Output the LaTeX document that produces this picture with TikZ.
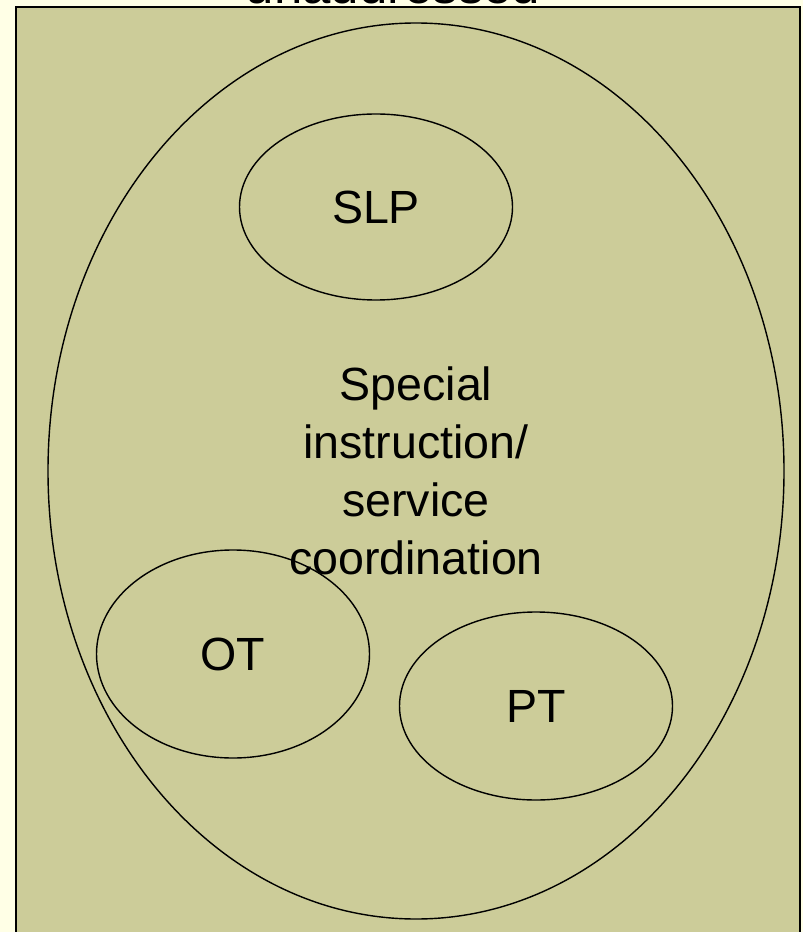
\documentclass[tikz,border=0pt]{standalone}
\usepackage{fontspec}
\setmainfont{Liberation Sans}
\usepackage{xcolor}
\usetikzlibrary{shapes.geometric}
\definecolor{pagebg}{RGB}{255,255,230}
\definecolor{boxfill}{RGB}{204,204,153}
\begin{document}
\begin{tikzpicture}[x=0.02cm, y=-0.02cm,
    oval/.style={ellipse, draw, line width=0.8pt, inner sep=0pt, font=\fontsize{26.5}{33}\selectfont}]
                            % Background
                            \fill[pagebg] (0,0) rectangle (803,932);
                            \useasboundingbox (0,0) rectangle (803,932);
                            \filldraw[fill=boxfill, draw=black, line width=1.2pt] (16,7) rectangle (800,960);
                            \node[anchor=base, inner sep=0pt, font=\fontsize{29}{36}\selectfont] (top) at (393,4) {unaddressed};
                            % Nodes
                            \node[oval, minimum width=736*0.02cm, minimum height=896*0.02cm, align=center] (coord) at (416,471)
                              {Special\\instruction/\\service\\coordination};
                            \foreach \name/\x/\y/\h in {SLP/376/207/186, OT/233/654/208, PT/536/706/188} {
                              \node[oval, minimum width=273*0.02cm, minimum height=\h*0.02cm] (\name) at (\x,\y) {\name};
                            }
                        \end{tikzpicture}
\end{document}
